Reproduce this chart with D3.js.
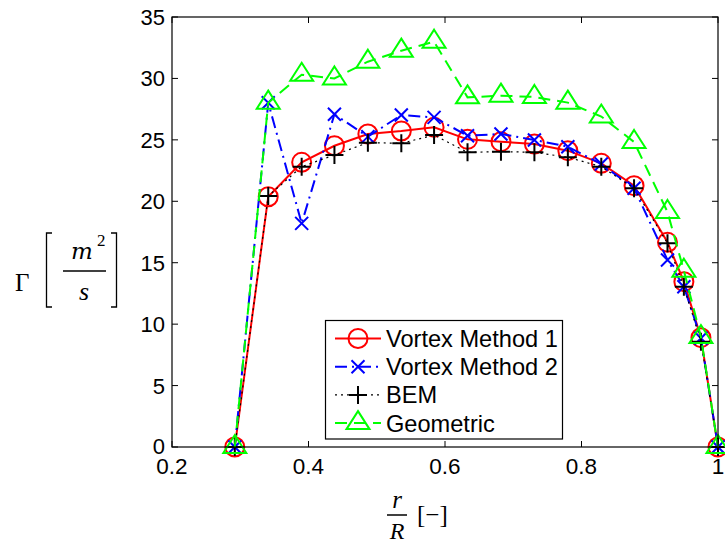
<!DOCTYPE html>
<html><head><meta charset="utf-8">
<script src="https://cdn.jsdelivr.net/npm/d3@7"></script>
<style>body{margin:0;background:#fff}</style>
</head><body>
<svg id="c" width="725" height="543"></svg>
<script>
const rR = [0.292,0.341,0.390,0.438,0.487,0.536,0.584,0.633,0.682,0.731,0.780,0.829,0.877,0.926,0.950,0.975,1.0];
const vortex1 = [0,20.37,23.17,24.52,25.48,25.72,26.02,25.04,24.85,24.66,24.12,23.09,21.27,16.66,13.46,8.9,0];
const vortex2 = [0,28.02,18.2,27.08,25.26,27.02,26.83,25.34,25.48,24.99,24.44,23.03,21.06,15.22,13.05,8.85,0];
const bem = [0,20.43,22.82,23.77,24.77,24.72,25.39,23.99,24.04,23.99,23.58,22.82,21.06,16.58,13.05,8.57,0];
const geometric = [0,28.03,30.3,30.0,31.36,32.26,32.99,28.46,28.6,28.49,28.03,26.9,24.83,19.13,14.35,8.95,0];
const seriesNames = ["Vortex Method 1","Vortex Method 2","BEM","Geometric"];
const xTicks = [0.2,0.4,0.6,0.8,1];
const yTicks = [0,5,10,15,20,25,30,35];

const svg = d3.select("#c");
const L=172,R=718,T=17,B=447;
const x = d3.scaleLinear().domain([0.2,1]).range([L,R]);
const y = d3.scaleLinear().domain([0,35]).range([B,T]);
const font = "Liberation Sans, Arial, sans-serif";

const styles = [
  {data:vortex1,color:"#ff0000",dash:null,w:2,marker:"circle"},
  {data:vortex2,color:"#0000ff",dash:"12,5,2,5",w:2,marker:"x"},
  {data:bem,color:"#000000",dash:"2,4",w:1.2,marker:"plus"},
  {data:geometric,color:"#00ff00",dash:"12,7",w:2,marker:"tri"}
];

function drawMarker(g, type, cx, cy, color){
  if(type==="circle"){
    g.append("circle").attr("cx",cx).attr("cy",cy).attr("r",9.5).attr("fill","none").attr("stroke",color).attr("stroke-width",2);
  } else if(type==="x"){
    const s=6.5;
    g.append("path").attr("d",`M${cx-s},${cy-s}L${cx+s},${cy+s}M${cx-s},${cy+s}L${cx+s},${cy-s}`).attr("stroke",color).attr("stroke-width",2).attr("fill","none");
  } else if(type==="plus"){
    const s=9;
    g.append("path").attr("d",`M${cx-s},${cy}L${cx+s},${cy}M${cx},${cy-s}L${cx},${cy+s}`).attr("stroke",color).attr("stroke-width",2).attr("fill","none");
  } else if(type==="tri"){
    const h=18,w=11.5;
    g.append("path").attr("d",`M${cx},${cy-2*h/3}L${cx+w},${cy+h/3}L${cx-w},${cy+h/3}Z`).attr("stroke",color).attr("stroke-width",2).attr("fill","none");
  }
}

const axG = svg.append("g");
const tl=6;
xTicks.forEach(t=>{
  axG.append("line").attr("x1",x(t)).attr("x2",x(t)).attr("y1",B).attr("y2",B-tl).attr("stroke","#000");
  axG.append("line").attr("x1",x(t)).attr("x2",x(t)).attr("y1",T).attr("y2",T+tl).attr("stroke","#000");
  axG.append("text").attr("x",x(t)).attr("y",B+27).attr("text-anchor","middle").attr("font-family",font).attr("font-size",22.5).text(d3.format("~g")(t));
});
yTicks.forEach(t=>{
  axG.append("line").attr("x1",L).attr("x2",L+tl).attr("y1",y(t)).attr("y2",y(t)).attr("stroke","#000");
  axG.append("line").attr("x1",R).attr("x2",R-tl).attr("y1",y(t)).attr("y2",y(t)).attr("stroke","#000");
  axG.append("text").attr("x",L-7).attr("y",y(t)+(t===0?6.5:8)).attr("text-anchor","end").attr("font-family",font).attr("font-size",22).text(t);
});

const line = d3.line().x((d,i)=>x(rR[i])).y(d=>y(d));
styles.forEach(s=>{
  const g = svg.append("g");
  g.append("path").datum(s.data).attr("d",line).attr("fill","none").attr("stroke",s.color).attr("stroke-width",s.w).attr("stroke-dasharray",s.dash);
  s.data.forEach((v,i)=>drawMarker(g,s.marker,x(rR[i]),y(v),s.color));
});

svg.append("rect").attr("x",L).attr("y",T).attr("width",R-L).attr("height",B-T).attr("fill","none").attr("stroke","#000").attr("stroke-width",1.2);

// legend
const lg = svg.append("g");
lg.append("rect").attr("x",325.5).attr("y",320.5).attr("width",237).attr("height",118.5).attr("fill","#fff").attr("stroke","#000").attr("stroke-width",1.2);
styles.forEach((s,i)=>{
  const cy = 338.5 + i*28.2;
  lg.append("line").attr("x1",335).attr("x2",381).attr("y1",cy).attr("y2",cy).attr("stroke",s.color).attr("stroke-width",s.w).attr("stroke-dasharray",s.dash);
  drawMarker(lg,s.marker,358,cy,s.color);
  lg.append("text").attr("x",386).attr("y",cy+8.5).attr("font-family",font).attr("font-size",23.6).text(seriesNames[i]);
});

// y label
const serif = "Liberation Serif, DejaVu Serif, serif";
const yl = svg.append("g");
yl.append("text").attr("x",15).attr("y",291).attr("font-family",serif).attr("font-size",25).text("Γ");
yl.append("path").attr("d","M52,233L46.5,233L46.5,307L52,307").attr("fill","none").attr("stroke","#000").attr("stroke-width",1.3);
yl.append("path").attr("d","M111,233L116.5,233L116.5,307L111,307").attr("fill","none").attr("stroke","#000").attr("stroke-width",1.3);
yl.append("text").attr("x",82).attr("y",259).attr("text-anchor","middle").attr("font-family","DejaVu Serif, serif").attr("font-style","italic").attr("font-size",23).text("m");
yl.append("text").attr("x",97).attr("y",246).attr("font-family",serif).attr("font-size",17).text("2");
yl.append("line").attr("x1",63).attr("x2",106).attr("y1",271).attr("y2",271).attr("stroke","#000").attr("stroke-width",1.5);
yl.append("text").attr("x",84).attr("y",300).attr("text-anchor","middle").attr("font-family",serif).attr("font-style","italic").attr("font-size",26).text("s");

// x label
const xl = svg.append("g");
xl.append("text").attr("x",397).attr("y",508).attr("text-anchor","middle").attr("font-family",serif).attr("font-style","italic").attr("font-size",25).text("r");
xl.append("line").attr("x1",387).attr("x2",407).attr("y1",515).attr("y2",515).attr("stroke","#000").attr("stroke-width",1.5);
xl.append("text").attr("x",397).attr("y",539).attr("text-anchor","middle").attr("font-family",serif).attr("font-style","italic").attr("font-size",24).text("R");
xl.append("text").attr("x",417).attr("y",523).attr("font-family",serif).attr("font-size",25).text("[−]");
</script>
</body></html>
